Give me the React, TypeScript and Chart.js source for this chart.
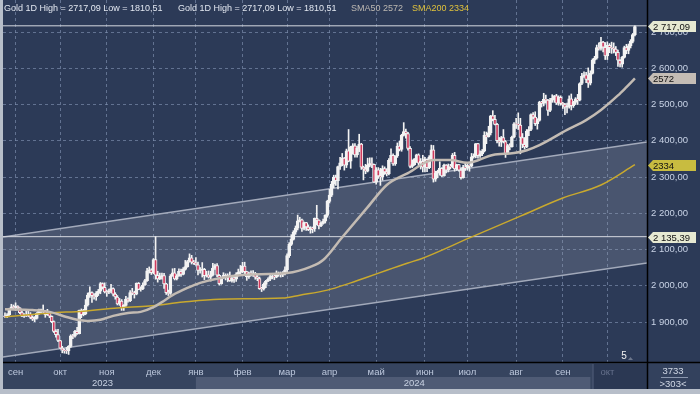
import React, { useEffect, useRef } from 'react';
import { Chart, registerables } from 'chart.js';

Chart.register(...registerables);

// ---- daily candles (index 0 = 25 Aug 2023 ... 297 = 18 Oct 2024) ----
const opens = [
  1917,1915,1920,1937,1942,1940,1944,1939,1926,1916,
  1919,1918,1922,1913,1908,1910,1924,1934,1931,1930,
  1920,1925,1916,1901,1874,1865,1849,1828,1822,1821,
  1820,1833,1862,1861,1874,1868,1932,1920,1923,1947,
  1974,1981,1973,1970,1979,1985,2006,1996,1983,1982,
  1985,1992,1977,1969,1950,1958,1940,1946,1963,1959,
  1981,1980,1977,2007,1990,1992,2002,2014,2041,2044,
  2036,2072,2029,2019,2025,2028,2005,1981,1979,2027,
  2036,2019,2027,2040,2031,2045,2053,2067,2077,2065,
  2063,2058,2042,2043,2045,2028,2030,2024,2029,2049,
  2056,2029,2006,2023,2029,2022,2029,2014,2021,2018,
  2032,2037,2039,2054,2039,2025,2035,2033,2034,2024,
  2020,1992,1991,2004,2013,2018,2025,2026,2024,2035,
  2031,2030,2034,2044,2083,2114,2128,2148,2159,2179,
  2182,2158,2174,2162,2155,2160,2157,2186,2181,2165,
  2172,2178,2194,2233,2250,2280,2300,2290,2329,2339,
  2352,2333,2372,2344,2383,2386,2361,2379,2391,2327,
  2322,2316,2332,2337,2335,2286,2320,2303,2301,2323,
  2314,2309,2346,2360,2336,2358,2385,2376,2415,2425,
  2420,2379,2329,2334,2350,2361,2338,2343,2327,2349,
  2326,2355,2375,2294,2311,2316,2324,2303,2333,2319,
  2329,2328,2360,2322,2334,2319,2298,2327,2326,2332,
  2330,2356,2358,2392,2359,2364,2371,2415,2411,2422,
  2469,2459,2445,2400,2396,2409,2398,2364,2387,2384,
  2410,2447,2446,2443,2409,2390,2383,2427,2431,2472,
  2465,2447,2456,2507,2503,2514,2512,2484,2512,2517,
  2524,2504,2520,2503,2500,2493,2495,2516,2497,2506,
  2516,2512,2558,2578,2582,2569,2559,2586,2622,2628,
  2657,2655,2672,2658,2634,2663,2657,2656,2653,2644,
  2622,2611,2630,2657,2649,2662,2674,2693,
];
const highs = [
  1925,1923,1938,1949,1947,1953,1945,1940,1930,1923,
  1930,1930,1926,1917,1915,1926,1936,1936,1947,1932,
  1935,1926,1917,1903,1879,1880,1850,1833,1826,1830,
  1835,1865,1866,1877,1885,1933,1936,1935,1962,1980,
  1997,1983,1978,1984,1990,2009,2008,2008,1988,1991,
  2004,1994,1981,1973,1965,1962,1948,1971,1967,1987,
  1993,1985,2008,2009,1997,2008,2018,2048,2052,2047,
  2075,2135.39,2040,2035,2035,2034,2007,1988,2031,2047,
  2048,2031,2047,2046,2050,2070,2070,2088,2084,2070,
  2078,2065,2050,2064,2048,2040,2041,2040,2062,2060,
  2061,2031,2024,2036,2033,2033,2038,2025,2029,2036,
  2046,2056,2065,2065,2040,2038,2041,2042,2037,2030,
  2024,1996,2008,2015,2022,2030,2031,2034,2041,2038,
  2038,2039,2052,2088,2119,2141,2152,2165,2195,2189,
  2184,2176,2175,2168,2163,2162,2187,2222,2182,2176,
  2184,2196,2236,2266,2288,2305,2305,2330,2354,2365,
  2354,2377,2431,2385,2392,2392,2385,2418,2393,2330,
  2335,2352,2353,2353,2336,2326,2326,2324,2331,2328,
  2323,2351,2378,2364,2359,2394,2399,2418,2450,2432,
  2423,2384,2347,2351,2363,2364,2351,2360,2354,2350,
  2359,2388,2387,2316,2319,2342,2326,2336,2334,2336,
  2335,2365,2368,2335,2335,2325,2332,2339,2338,2334,
  2365,2364,2392,2393,2372,2376,2425,2424,2440,2470,
  2483,2470,2448,2409,2412,2431,2401,2390,2392,2413,
  2450,2462,2477,2462,2420,2409,2431,2439,2474,2478,
  2480,2461,2509,2509,2531,2526,2514,2517,2527,2525,
  2528,2524,2524,2506,2503,2504,2524,2529,2509,2519,
  2528,2560,2586,2590,2589,2601,2593,2626,2633,2664,
  2670,2685,2674,2671,2673,2668,2672,2670,2660,2650,
  2624,2633,2661,2666,2667,2679,2696,2717.09,
];
const lows = [
  1913,1912,1918,1935,1936,1932,1935,1923,1915,1913,
  1915,1915,1909,1904,1901,1908,1921,1926,1926,1913,
  1918,1912,1898,1871,1858,1846,1827,1815,1814,1813,
  1810.51,1830,1854,1858,1866,1867,1912,1917,1920,1944,
  1968,1954,1963,1960,1973,1978,1991,1980,1971,1978,
  1980,1972,1963,1947,1946,1932,1932,1943,1955,1956,
  1975,1966,1975,1989,1985,1989,2001,2012,2035,2031,
  2033,2018,2010,2017,2018,1993,1976,1973,1976,2026,
  2016,2016,2026,2026,2030,2043,2051,2065,2060,2059,
  2057,2030,2035,2024,2017,2024,2021,2013,2027,2045,
  2025,2002,2004,2020,2016,2011,2012,2010,2009,2012,
  2027,2032,2036,2031,2015,2020,2027,2026,2018,2014,
  1990,1984,1988,1995,2011,2014,2019,2017,2022,2026,
  2024,2025,2030,2038,2078,2111,2126,2142,2154,2176,
  2150,2154,2153,2152,2145,2146,2150,2168,2157,2163,
  2170,2173,2189,2228,2246,2270,2277,2267,2321,2331,
  2319,2326,2342,2324,2363,2355,2355,2370,2321,2292,
  2309,2314,2328,2326,2285,2280,2296,2277,2291,2307,
  2303,2306,2342,2332,2332,2354,2372,2371,2413,2407,
  2374,2325,2326,2332,2340,2332,2322,2314,2314,2315,
  2323,2349,2286,2288,2298,2305,2301,2302,2311,2314,
  2322,2325,2316,2318,2316,2294,2297,2318,2319,2316,
  2328,2352,2353,2352,2354,2359,2369,2392,2410,2416,
  2455,2444,2394,2385,2384,2394,2354,2363,2375,2382,
  2408,2434,2431,2364,2381,2377,2381,2414,2428,2460,
  2442,2432,2454,2493,2496,2504,2470,2480,2506,2506,
  2500,2498,2498,2489,2472,2477,2490,2485,2492,2500,
  2500,2510,2555,2575,2560,2547,2554,2584,2613,2625,
  2650,2650,2645,2624,2624,2643,2641,2642,2635,2605,
  2604,2603,2628,2640,2640,2656,2670,2689,
];
const closes = [
  1915,1920,1937,1942,1940,1944,1939,1926,1916,1919,
  1918,1922,1913,1908,1910,1924,1934,1931,1930,1920,
  1925,1916,1901,1874,1865,1849,1828,1822,1821,1820,
  1833,1862,1861,1874,1868,1932,1920,1923,1947,1974,
  1981,1973,1970,1979,1985,2006,1996,1983,1982,1985,
  1992,1977,1969,1950,1958,1940,1946,1963,1959,1981,
  1980,1977,2007,1990,1992,2002,2014,2041,2044,2036,
  2072,2029,2019,2025,2028,2005,1981,1979,2027,2036,
  2019,2027,2040,2031,2045,2053,2067,2077,2065,2063,
  2058,2042,2043,2045,2028,2030,2024,2029,2049,2056,
  2029,2006,2023,2029,2022,2029,2014,2021,2018,2032,
  2037,2039,2054,2039,2025,2035,2033,2034,2024,2020,
  1992,1991,2004,2013,2018,2025,2026,2024,2035,2031,
  2030,2034,2044,2083,2114,2128,2148,2159,2179,2182,
  2158,2174,2162,2155,2160,2157,2186,2181,2165,2172,
  2178,2194,2233,2250,2280,2300,2290,2329,2339,2352,
  2333,2372,2344,2383,2386,2361,2379,2391,2327,2322,
  2316,2332,2337,2335,2286,2320,2303,2301,2323,2314,
  2309,2346,2360,2336,2358,2385,2376,2415,2425,2420,
  2379,2329,2334,2350,2361,2338,2343,2327,2349,2326,
  2355,2375,2294,2311,2316,2324,2303,2333,2319,2329,
  2328,2360,2322,2334,2319,2298,2327,2326,2332,2330,
  2356,2358,2392,2359,2364,2371,2415,2411,2422,2469,
  2459,2445,2400,2396,2409,2398,2364,2387,2384,2410,
  2447,2446,2443,2409,2390,2383,2427,2431,2472,2465,
  2447,2456,2507,2503,2514,2512,2484,2512,2517,2524,
  2504,2520,2503,2500,2493,2495,2516,2497,2506,2516,
  2512,2558,2578,2582,2569,2559,2586,2622,2628,2657,
  2655,2672,2658,2634,2663,2657,2656,2653,2644,2622,
  2611,2630,2657,2649,2662,2674,2693,2715,
];

// ---- moving averages ----
const sma50Idx = [0,13,21,29,34,39,45,51,58,64,70,74,79,86,92,101,112,133,144,150,159,171,180,190,202,210,218,230,240,246,252,265,274,281,289,293,297];
const sma50Val = [1935,1933,1928,1914,1906,1903,1906,1917,1925,1928,1941,1955,1974,1994,2008,2021,2030,2035,2052,2071,2134,2217,2278,2311,2347,2347,2339,2361,2366,2374,2388,2430,2457,2485,2525,2548,2572];
const sma200Idx = [0,21,37,53,68,84,101,131,139,152,163,171,180,190,196,219,243,263,281,297];
const sma200Val = [1914,1925,1930,1939,1944,1955,1963,1966,1974,1988,2008,2024,2043,2063,2074,2132,2192,2242,2278,2334];

// ---- channel & levels ----
const channelIdx = [-0.94, 302.7];
const channelUpper = [2134.5, 2396.6];
const channelLower = [1803.4, 2062.8];
const levelTop = 2717.09;
const levelMid = 2135.39;

// ---- axis labels ----
const monthTickIdx = [5,26,48,70,90,112,133,153,175,198,218,241,263,284];
const monthLabels = ['сен','окт','ноя','дек','янв','фев','мар','апр','май','июн','июл','авг','сен','окт'];
const yearLabels = ['2023','2024'];
const yearIdx = [46, 193];
const priceTicks = [1900,2000,2100,2200,2300,2400,2500,2600,2700];

const X_MIN = -0.94;
const X_MAX = 302.7;
const Y_MIN = 1789.7;
const Y_MAX = 2788.3;

const FONT = '"Liberation Sans", Arial, sans-serif';

function fmtPrice(v: number, sep = ' ') {
  const [i, d] = v.toFixed(2).split('.');
  const s = i.length > 3 ? i.slice(0, i.length - 3) + sep + i.slice(-3) : i;
  return s + ',' + d;
}

const bgPlugin = {
  id: 'bgPlugin',
  beforeDraw(chart: any) {
    const { ctx } = chart;
    const xs = chart.scales.x;
    ctx.save();
    ctx.fillStyle = '#b7bec9';
    ctx.fillRect(0, 0, 700, 394);
    ctx.fillStyle = '#2c3a57';
    ctx.fillRect(3, 0, 697, 389);
    ctx.fillStyle = '#36445f';
    ctx.fillRect(3, 362, 644, 27);
    // highlighted year band
    const bx0 = xs.getPixelForValue(monthTickIdx[4]);
    const bx1 = xs.getPixelForValue(276);
    ctx.fillStyle = '#4f5b75';
    ctx.fillRect(bx0, 377, bx1 - bx0, 12);
    // dark box at the end of the timeline
    const ox = xs.getPixelForValue(277);
    ctx.fillStyle = '#2b3853';
    ctx.fillRect(ox, 364, 647 - ox, 25);
    ctx.fillStyle = '#56627e';
    ctx.fillRect(ox, 364, 1, 25);
    // bottom-right box
    ctx.fillStyle = '#33415d';
    ctx.fillRect(647, 362, 53, 27);
    ctx.restore();
  },
  afterDraw(chart: any) {
    const { ctx } = chart;
    const xs = chart.scales.x;
    const ys = chart.scales.y;
    ctx.save();
    // axis frame lines
    ctx.strokeStyle = '#000';
    ctx.lineWidth = 1.5;
    ctx.beginPath();
    ctx.moveTo(647.5, 0);
    ctx.lineTo(647.5, 389);
    ctx.moveTo(3, 362.5);
    ctx.lineTo(700, 362.5);
    ctx.stroke();

    // header
    const hi = Math.max(...highs);
    const lo = Math.min(...lows);
    const head = `Gold 1D High = ${fmtPrice(hi, '')} Low = ${fmtPrice(lo, '')}`;
    ctx.font = `9px ${FONT}`;
    ctx.textBaseline = 'middle';
    ctx.textAlign = 'left';
    ctx.fillStyle = '#e2e7f0';
    ctx.fillText(head, 4, 9);
    ctx.fillText(head, 178, 9);
    ctx.fillStyle = '#bdb8b2';
    ctx.fillText(`SMA50 ${sma50Val[sma50Val.length - 1]}`, 351, 9);
    ctx.fillStyle = '#e0c23c';
    ctx.fillText(`SMA200 ${sma200Val[sma200Val.length - 1]}`, 412, 9);

    // price tags
    const tags = [
      { v: levelTop, t: fmtPrice(levelTop), bg: '#e6e9d2' },
      { v: sma50Val[sma50Val.length - 1], t: String(sma50Val[sma50Val.length - 1]), bg: '#c5bdb5' },
      { v: sma200Val[sma200Val.length - 1], t: String(sma200Val[sma200Val.length - 1]), bg: '#c8bc40' },
      { v: levelMid, t: fmtPrice(levelMid), bg: '#e6e9d2' },
    ];
    ctx.font = `9.5px ${FONT}`;
    for (const tg of tags) {
      const y = Math.round(ys.getPixelForValue(tg.v)) + 0.5;
      ctx.fillStyle = tg.bg;
      ctx.beginPath();
      ctx.moveTo(648, y);
      ctx.lineTo(653, y - 5.5);
      ctx.lineTo(696, y - 5.5);
      ctx.lineTo(696, y + 5.5);
      ctx.lineTo(653, y + 5.5);
      ctx.closePath();
      ctx.fill();
      ctx.fillStyle = '#111';
      ctx.fillText(tg.t, 653, y + 0.5);
    }

    // year labels
    ctx.fillStyle = '#c8d1e2';
    ctx.textAlign = 'center';
    yearLabels.forEach((t, i) => {
      ctx.fillText(t, xs.getPixelForValue(yearIdx[i]), 383);
    });

    // bottom-right box
    ctx.fillStyle = '#d2d9e6';
    ctx.fillText('3733', 673, 371);
    ctx.fillText('>303<', 673, 384);
    ctx.strokeStyle = '#8a96ad';
    ctx.lineWidth = 1;
    ctx.beginPath();
    ctx.moveTo(661, 377.5);
    ctx.lineTo(688, 377.5);
    ctx.stroke();

    // bars-to-right marker
    ctx.fillStyle = '#f0f0f0';
    ctx.font = `10px ${FONT}`;
    ctx.fillText('5', 624, 356);
    ctx.fillStyle = '#6d778c';
    ctx.beginPath();
    ctx.moveTo(628, 360);
    ctx.lineTo(633, 360);
    ctx.lineTo(630.5, 357);
    ctx.closePath();
    ctx.fill();
    ctx.restore();
  },
};

export default function App() {
  const ref = useRef<HTMLCanvasElement>(null);
  useEffect(() => {
    document.body.style.margin = '0';
    const wickData = closes.map((_, i) => ({ x: i, y: [lows[i], highs[i]] }));
    const bodyData = closes.map((c, i) => ({ x: i, y: [opens[i], c] }));
    const bodyColors = closes.map((c, i) => (c >= opens[i] ? '#f3f3f3' : '#cf3a5d'));
    const gridColor = 'rgba(128,144,176,0.65)';

    const chart = new Chart(ref.current as HTMLCanvasElement, {
      type: 'bar',
      data: {
        datasets: [
          {
            type: 'line',
            data: channelIdx.map((x, i) => ({ x, y: channelUpper[i] })),
            borderColor: '#a3aabb',
            borderWidth: 1.5,
            pointRadius: 0,
            fill: '+1',
            backgroundColor: 'rgba(160,166,182,0.25)',
            order: 10,
          },
          {
            type: 'line',
            data: channelIdx.map((x, i) => ({ x, y: channelLower[i] })),
            borderColor: '#a3aabb',
            borderWidth: 1.5,
            pointRadius: 0,
            fill: false,
            order: 10,
          },
          {
            type: 'line',
            data: channelIdx.map((x) => ({ x, y: levelTop })),
            borderColor: '#d6d9e0',
            borderWidth: 1,
            pointRadius: 0,
            order: 9,
          },
          {
            type: 'line',
            data: channelIdx.map((x) => ({ x, y: levelMid })),
            borderColor: '#d6d9e0',
            borderWidth: 1,
            pointRadius: 0,
            order: 9,
          },
          {
            type: 'bar',
            data: wickData as any,
            backgroundColor: '#f3f3f3',
            barThickness: 1,
            grouped: false,
            order: 6,
          },
          {
            type: 'bar',
            data: bodyData as any,
            backgroundColor: bodyColors,
            borderColor: '#f3f3f3',
            borderWidth: 1,
            borderSkipped: false,
            barThickness: 3,
            grouped: false,
            order: 5,
          },
          {
            type: 'line',
            data: sma200Idx.map((x, i) => ({ x, y: sma200Val[i] })),
            borderColor: '#c9a92e',
            borderWidth: 1.5,
            pointRadius: 0,
            cubicInterpolationMode: 'monotone',
            order: 2,
          },
          {
            type: 'line',
            data: sma50Idx.map((x, i) => ({ x, y: sma50Val[i] })),
            borderColor: '#c3bbb3',
            borderWidth: 2.5,
            pointRadius: 0,
            cubicInterpolationMode: 'monotone',
            order: 1,
          },
        ] as any,
      },
      options: {
        responsive: false,
        maintainAspectRatio: false,
        devicePixelRatio: 1,
        animation: false,
        events: [],
        layout: { padding: { left: 3, right: 0, top: 0, bottom: 0 } },
        plugins: {
          legend: { display: false },
          tooltip: { enabled: false },
          title: { display: false },
        },
        scales: {
          x: {
            type: 'linear',
            position: 'bottom',
            offset: false,
            min: X_MIN,
            max: X_MAX,
            afterBuildTicks: (s: any) => {
              s.ticks = monthTickIdx.map((v) => ({ value: v }));
            },
            afterFit: (s: any) => {
              s.height = 32;
              s.paddingLeft = 0;
              s.paddingRight = 0;
            },
            ticks: {
              autoSkip: false,
              maxRotation: 0,
              minRotation: 0,
              padding: 5,
              font: { size: 9.5, family: FONT },
              color: (c: any) => (c.index === monthLabels.length - 1 ? '#66718c' : '#bcc7dc'),
              callback: (v: any) => monthLabels[monthTickIdx.indexOf(Number(v))] ?? '',
            },
            grid: { color: gridColor, lineWidth: 1, drawTicks: false, offset: false },
            border: { display: false, dash: [3, 3] },
          },
          y: {
            type: 'linear',
            position: 'right',
            min: Y_MIN,
            max: Y_MAX,
            afterBuildTicks: (s: any) => {
              s.ticks = priceTicks.map((v) => ({ value: v }));
            },
            afterFit: (s: any) => {
              s.width = 53;
              s.paddingTop = 0;
              s.paddingBottom = 0;
            },
            ticks: {
              padding: 4,
              font: { size: 9.5, family: FONT },
              color: '#c9d3e6',
              callback: (v: any) => fmtPrice(Number(v)),
            },
            grid: { color: gridColor, lineWidth: 1, drawTicks: false },
            border: { display: false, dash: [3, 3] },
          },
        },
      } as any,
      plugins: [bgPlugin],
    });
    return () => chart.destroy();
  }, []);

  return (
    <div style={{ position: 'fixed', left: 0, top: 0, width: 700, height: 394 }}>
      <canvas ref={ref} width={700} height={394} style={{ display: 'block', width: 700, height: 394 }} />
    </div>
  );
}
